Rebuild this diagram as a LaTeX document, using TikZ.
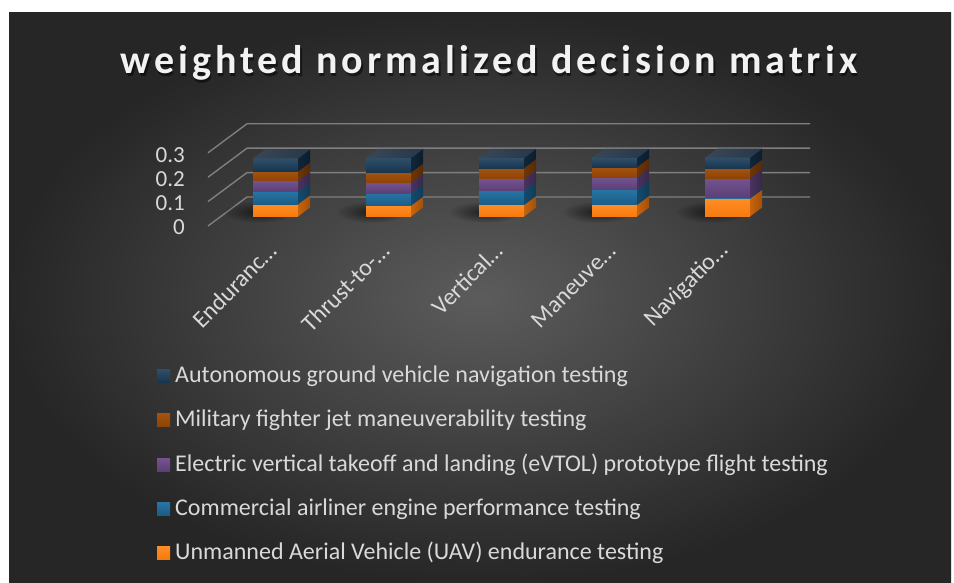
\documentclass[tikz,border=0pt]{standalone}
\usepackage{fontspec}
\setmainfont{Carlito}
\newfontfamily\titlefont{Carlito}[LetterSpace=10]
\usetikzlibrary{fadings}

% series colours: L = light end of front gradient, F = front, S = side
\definecolor{navyL}{HTML}{2F4E69}\definecolor{navyF}{HTML}{17354F}\definecolor{navyS}{HTML}{0E2234}
\definecolor{brownL}{HTML}{A4520E}\definecolor{brownF}{HTML}{8E4306}\definecolor{brownS}{HTML}{673206}
\definecolor{purpL}{HTML}{73538F}\definecolor{purpF}{HTML}{5C3F77}\definecolor{purpS}{HTML}{432F58}
\definecolor{blueL}{HTML}{2774A4}\definecolor{blueF}{HTML}{1A5C86}\definecolor{blueS}{HTML}{134666}
\definecolor{orngL}{HTML}{FF8C24}\definecolor{orngF}{HTML}{F57A0E}\definecolor{orngS}{HTML}{BE5E0C}
\definecolor{topL}{HTML}{3A4755}\definecolor{topR}{HTML}{27384A}
\definecolor{gridc}{HTML}{7F7F7F}
\definecolor{labc}{HTML}{D9D9D9}

\tikzfading[name=softedge, inner color=transparent!25, outer color=transparent!100]

\tikzset{
  gridline/.style={draw=gridc, line width=1.4pt},
  axislab/.style={text=labc, font=\fontsize{23}{26}\selectfont, inner sep=0pt},
  catlab/.style={text=labc, font=\fontsize{24}{28}\selectfont, inner sep=0pt, rotate=45, anchor=east},
  legtext/.style={text=labc, font=\fontsize{24}{28}\selectfont, inner sep=0pt, anchor=west},
}

% one segment of a stacked column: x, lower y, upper y, colour prefix
\newcommand\stackseg[4]{%
  \shade[top color=#4L, bottom color=#4F] (#1,#2) rectangle ({#1+45},#3);
  \shade[left color=#4S!80!#4F, right color=#4S!85!black]
    ({#1+45},#2) -- ({#1+57},{#2-9}) -- ({#1+57},{#3-9}) -- ({#1+45},#3) -- cycle;
}
% a full column: x, then the five segment heights from the bottom up
\newcommand\column[6]{%
  \pgfmathsetmacro\ya{216.5-#2}\pgfmathsetmacro\yb{\ya-#3}%
  \pgfmathsetmacro\yc{\yb-#4}\pgfmathsetmacro\yd{\yc-#5}\pgfmathsetmacro\ye{\yd-#6}%
  \fill[black, opacity=0.8, path fading=softedge] ({#1+6},212) ellipse (36 and 11);
  \stackseg{#1}{216.5}{\ya}{orng}
  \stackseg{#1}{\ya}{\yb}{blue}
  \stackseg{#1}{\yb}{\yc}{purp}
  \stackseg{#1}{\yc}{\yd}{brown}
  \stackseg{#1}{\yd}{\ye}{navy}
  \shade[left color=topL, right color=topR]
    (#1,\ye) -- ({#1+12},{\ye-9}) -- ({#1+57},{\ye-9}) -- ({#1+45},\ye) -- cycle;
}
\newcommand\legsq[2]{%
  \shade[top color=#1L, bottom color=#1F] (157,{#2-6.5}) rectangle (170,{#2+6.5});
}

\begin{document}
\begin{tikzpicture}[x=1pt,y=-1pt]
\useasboundingbox (0,0) rectangle (954,583);
\fill[white] (0,0) rectangle (954,583);
% chart area with radial background
\shade[inner color=black!64, outer color=black!85] (9,13) rectangle (951,583);

% title with soft shadow
\node[text=black, opacity=0.5, font=\titlefont\bfseries\fontsize{40}{44}\selectfont] (titleshadow) at (490.5,65.5) {weighted normalized decision matrix};
\node[text=white!95!black, font=\titlefont\bfseries\fontsize{40}{44}\selectfont] (title) at (489,63) {weighted normalized decision matrix};

% back wall and side wall gridlines
\foreach \v in {0,1,2,3}{
  \coordinate (f\v) at (208,{226-24.4*\v});
  \coordinate (b\v) at (247,{197-24.4*\v});
  \coordinate (e\v) at (810,{197-24.4*\v});
  \draw[gridline] (f\v) -- (b\v) -- (e\v);
}

% value axis labels
\node[axislab, anchor=east] (l0) at (185,227) {0};
\node[axislab, anchor=east] (l1) at (185,203.5) {0.1};
\node[axislab, anchor=east] (l2) at (185,179) {0.2};
\node[axislab, anchor=east] (l3) at (185,155.5) {0.3};

% stacked columns
\column{253}{12.2}{12.6}{10.7}{9.5}{13.0}
\column{366}{10.8}{12.4}{10.6}{10.0}{14.7}
\column{479}{11.5}{14.3}{11.7}{10.7}{10.3}
\column{592}{11.5}{15.0}{12.7}{10.0}{9.3}
\column{705}{17.8}{1.0}{19.5}{9.5}{11.0}

% category labels
\node[catlab] (c1) at (273,247) {Enduranc…};
\node[catlab] (c2) at (386,247) {Thrust-to-…};
\node[catlab] (c3) at (499,247) {Vertical…};
\node[catlab] (c4) at (612,247) {Maneuve…};
\node[catlab] (c5) at (725,247) {Navigatio…};

% legend
\legsq{navy}{376}
\node[legtext] (g1) at (175,376) {Autonomous ground vehicle navigation testing};
\legsq{brown}{420}
\node[legtext] (g2) at (175,420) {Military fighter jet maneuverability testing};
\legsq{purp}{465}
\node[legtext] (g3) at (175,465) {Electric vertical takeoff and landing (eVTOL) prototype flight testing};
\legsq{blue}{509}
\node[legtext] (g4) at (175,509) {Commercial airliner engine performance testing};
\legsq{orng}{553}
\node[legtext] (g5) at (175,553) {Unmanned Aerial Vehicle (UAV) endurance testing};
\end{tikzpicture}
\end{document}
